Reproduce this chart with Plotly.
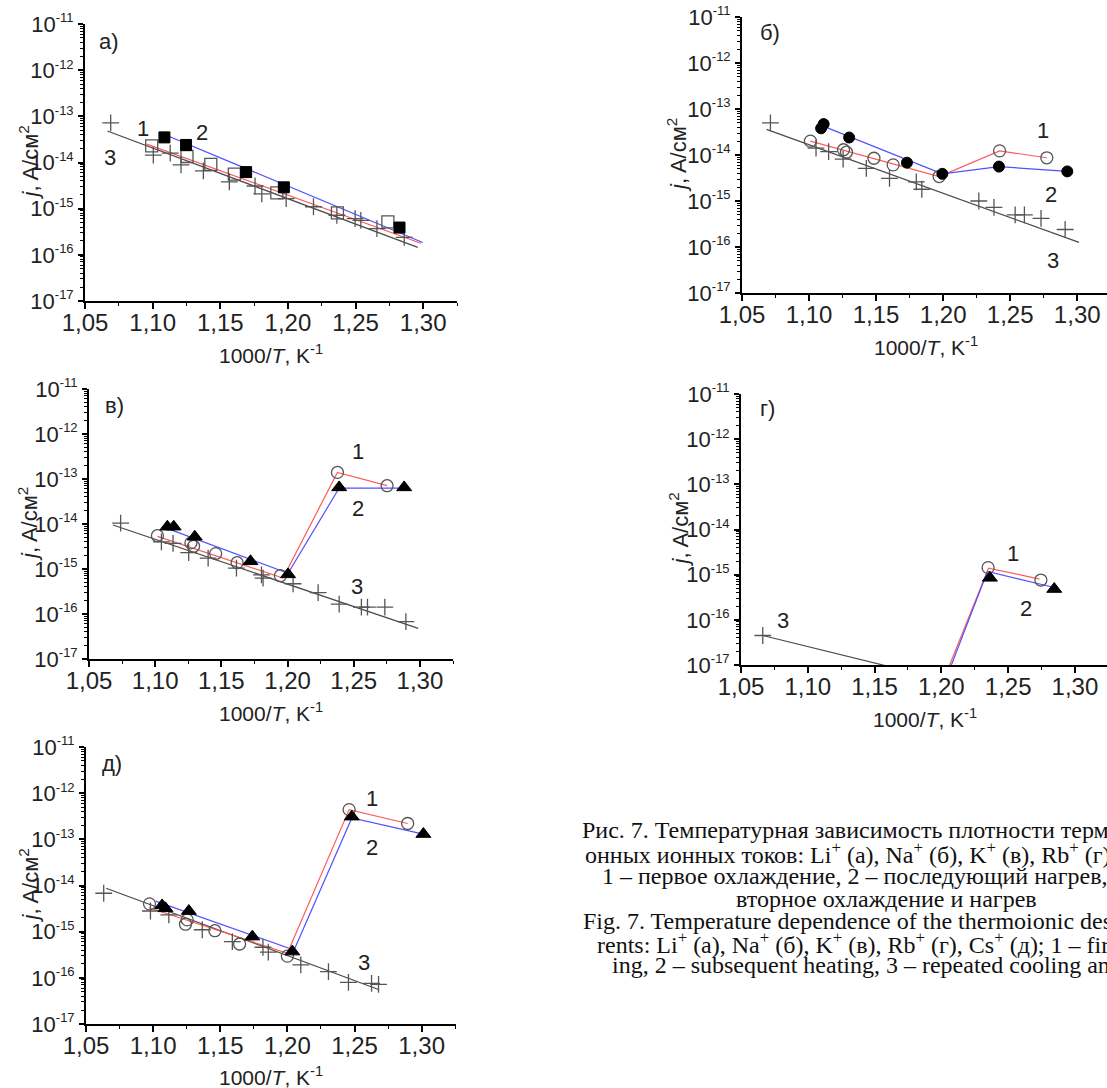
import plotly.graph_objects as go

W, H = 1107, 1088

# ---------------- data ----------------
x_tick_vals = [1.05, 1.10, 1.15, 1.20, 1.25, 1.30]
x_tick_text = ["1,05", "1,10", "1,15", "1,20", "1,25", "1,30"]
y_decades = [-17, -16, -15, -14, -13, -12, -11]

# panel а) Li+
a_x3 = [1.069, 1.1005, 1.113, 1.121, 1.1375, 1.1567, 1.1757, 1.1807, 1.1987, 1.2189, 1.2362, 1.2497, 1.2539, 1.2658, 1.286]
a_y3 = [7.2e-14, 1.44e-14, 1.6e-14, 8.9e-15, 6.6e-15, 3.8e-15, 3.1e-15, 2.1e-15, 1.65e-15, 1.1e-15, 7.2e-16, 6.1e-16, 5.6e-16, 3.7e-16, 2.4e-16]
a_x1 = [1.0993, 1.1254, 1.143, 1.1604, 1.1918, 1.2366, 1.2739]
a_y1 = [2.3e-14, 1.35e-14, 9.1e-15, 5.6e-15, 2.2e-15, 8.1e-16, 5.2e-16]
a_x2 = [1.1087, 1.1247, 1.1691, 1.197, 1.2825]
a_y2 = [3.5e-14, 2.4e-14, 6.2e-15, 2.9e-15, 3.9e-16]
a_fit3_x = [1.0665, 1.296]
a_fit3_y = [4.8e-14, 1.45e-16]
a_fit1_x = [1.0956, 1.2983]
a_fit1_y = [2.5e-14, 1.78e-16]
a_fit2_x = [1.1092, 1.2997]
a_fit2_y = [4.0e-14, 1.85e-16]

# panel б) Na+
b_x3 = [1.0712, 1.1052, 1.1146, 1.1254, 1.1427, 1.16, 1.18, 1.1841, 1.2266, 1.2379, 1.2537, 1.2606, 1.273, 1.291]
b_y3 = [5.0e-14, 1.41e-14, 1.18e-14, 8.1e-15, 5.1e-15, 3.1e-15, 2.6e-15, 1.8e-15, 1.0e-15, 7.3e-16, 5.0e-16, 5.0e-16, 4.2e-16, 2.4e-16]
b_fit3_x = [1.0683, 1.3013]
b_fit3_y = [3.6e-14, 1.26e-16]
b_x1 = [1.101, 1.1257, 1.1279, 1.1484, 1.1627, 1.197, 1.2421, 1.2773]
b_y1 = [2.0e-14, 1.3e-14, 1.15e-14, 8.5e-15, 6.1e-15, 3.4e-15, 1.23e-14, 8.7e-15]
b_line1_x = [1.101, 1.197, 1.2421, 1.2773]
b_line1_y = [2.0e-14, 3.4e-15, 1.23e-14, 8.7e-15]
b_x2 = [1.109, 1.1109, 1.1299, 1.173, 1.1994, 1.2416, 1.2926]
b_y2 = [3.8e-14, 4.7e-14, 2.4e-14, 6.8e-15, 3.9e-15, 5.6e-15, 4.4e-15]
b_line2_x = [1.110, 1.1994, 1.2416, 1.2926]
b_line2_y = [4.3e-14, 3.9e-15, 5.6e-15, 4.4e-15]

# panel в) K+
v_x3 = [1.0739, 1.1047, 1.1135, 1.1253, 1.14, 1.1614, 1.1803, 1.1815, 1.2042, 1.2231, 1.239, 1.2558, 1.2604, 1.2735, 1.2894]
v_y3 = [1.05e-14, 4.0e-15, 3.7e-15, 2.3e-15, 1.75e-15, 1.05e-15, 7.4e-16, 6.3e-16, 4.7e-16, 3.0e-16, 1.66e-16, 1.42e-16, 1.42e-16, 1.42e-16, 6.8e-17]
v_fit3_x = [1.0681, 1.2987]
v_fit3_y = [9.5e-15, 4.8e-17]
v_x1 = [1.1017, 1.127, 1.129, 1.1457, 1.1619, 1.1946, 1.2377, 1.2752]
v_y1 = [5.5e-15, 3.8e-15, 3.2e-15, 2.2e-15, 1.38e-15, 7.1e-16, 1.4e-13, 7.1e-14]
v_line1_x = [1.1017, 1.1966, 1.2377, 1.2752]
v_line1_y = [5.3e-15, 6.3e-16, 1.4e-13, 7.1e-14]
v_x2 = [1.1092, 1.114, 1.1299, 1.172, 1.2004, 1.239, 1.2881]
v_y2 = [8.7e-15, 8.7e-15, 5.2e-15, 1.48e-15, 7.6e-16, 6.5e-14, 6.5e-14]
v_line2_x = [1.109, 1.2004, 1.239, 1.2881]
v_line2_y = [8.0e-15, 8.0e-16, 6.3e-14, 6.3e-14]

# panel г) Rb+
g_x3 = [1.0663]
g_y3 = [4.5e-17]
g_fit3_x = [1.0663, 1.20]
g_fit3_y = [4.5e-17, 4.8e-18]
g_x1 = [1.235, 1.2745]
g_y1 = [1.43e-15, 7.6e-16]
g_line1_x = [1.200, 1.2353, 1.2735]
g_line1_y = [3.5e-18, 1.4e-15, 8.0e-16]
g_x2 = [1.2363, 1.2845]
g_y2 = [8.5e-16, 4.8e-16]
g_line2_x = [1.202, 1.2345, 1.2845]
g_line2_y = [3.8e-18, 1.18e-15, 5.2e-16]

# panel д) Cs+
d_x3 = [1.0632, 1.098, 1.1117, 1.1366, 1.159, 1.1818, 1.1858, 1.21, 1.2306, 1.2455, 1.2627, 1.2679]
d_y3 = [6.8e-15, 2.8e-15, 2.3e-15, 1.1e-15, 6.1e-16, 4.6e-16, 3.6e-16, 1.9e-16, 1.36e-16, 8.0e-17, 7.6e-17, 7.2e-17]
d_fit3_x = [1.065, 1.2679]
d_fit3_y = [8.7e-15, 5.6e-17]
d_x1 = [1.0973, 1.1241, 1.1254, 1.146, 1.1644, 1.2, 1.246, 1.2896]
d_y1 = [4.0e-15, 1.45e-15, 1.8e-15, 1.05e-15, 5.4e-16, 2.95e-16, 4.4e-13, 2.2e-13]
d_line1_x = [1.0969, 1.2, 1.246, 1.2896]
d_line1_y = [3.3e-15, 3.4e-16, 4.4e-13, 2.2e-13]
d_x2 = [1.1067, 1.1092, 1.1266, 1.1739, 1.2037, 1.248, 1.3013]
d_y2 = [3.7e-15, 3.2e-15, 2.8e-15, 7.8e-16, 3.7e-16, 3.1e-13, 1.3e-13]
d_line2_x = [1.1018, 1.205, 1.248, 1.3013]
d_line2_y = [4.6e-15, 4.0e-16, 2.9e-13, 1.3e-13]

caption_lines = [
    "Рис. 7. Температурная зависимость плотности термоэмисси-",
    "онных ионных токов: Li<sup>+</sup> (а), Na<sup>+</sup> (б), K<sup>+</sup> (в), Rb<sup>+</sup> (г), Cs<sup>+</sup> (д);",
    "1 – первое охлаждение, 2 – последующий нагрев, 3 – по-",
    "вторное охлаждение и нагрев",
    "Fig. 7. Temperature dependence of the thermoionic desorption cur-",
    "rents: Li<sup>+</sup> (а), Na<sup>+</sup> (б), K<sup>+</sup> (в), Rb<sup>+</sup> (г), Cs<sup>+</sup> (д); 1 – first cool-",
    "ing, 2 – subsequent heating, 3 – repeated cooling and heating",
]

# ---------------- layout geometry (pixels) ----------------
panels = [
    dict(name="а)", box=(85, 457, 24, 301), xmax=1.325, lab=(97, 42),
         nums=[("1", 143, 128), ("2", 202, 133), ("3", 110, 157)]),
    dict(name="б)", box=(742, 1107, 17, 293), xmax=1.3222, lab=(758, 33),
         nums=[("1", 1043, 130), ("2", 1051, 194), ("3", 1053, 260)]),
    dict(name="в)", box=(89, 453, 389, 659), xmax=1.325, lab=(103, 405),
         nums=[("1", 358, 451), ("2", 358, 508), ("3", 357, 586)]),
    dict(name="г)", box=(741, 1107, 394, 665), xmax=1.324, lab=(758, 408),
         nums=[("1", 1013, 553), ("2", 1026, 608), ("3", 783, 620)]),
    dict(name="д)", box=(86, 456, 747, 1024), xmax=1.3256, lab=(100, 763),
         nums=[("1", 372, 798), ("2", 372, 847), ("3", 364, 962)]),
]

series = [
    dict(m3=(a_x3, a_y3), f3=(a_fit3_x, a_fit3_y), m1=(a_x1, a_y1), l1=(a_fit1_x, a_fit1_y),
         m2=(a_x2, a_y2), l2=(a_fit2_x, a_fit2_y), s1="square-open", s2="square"),
    dict(m3=(b_x3, b_y3), f3=(b_fit3_x, b_fit3_y), m1=(b_x1, b_y1), l1=(b_line1_x, b_line1_y),
         m2=(b_x2, b_y2), l2=(b_line2_x, b_line2_y), s1="circle-open", s2="circle"),
    dict(m3=(v_x3, v_y3), f3=(v_fit3_x, v_fit3_y), m1=(v_x1, v_y1), l1=(v_line1_x, v_line1_y),
         m2=(v_x2, v_y2), l2=(v_line2_x, v_line2_y), s1="circle-open", s2="triangle-up"),
    dict(m3=(g_x3, g_y3), f3=(g_fit3_x, g_fit3_y), m1=(g_x1, g_y1), l1=(g_line1_x, g_line1_y),
         m2=(g_x2, g_y2), l2=(g_line2_x, g_line2_y), s1="circle-open", s2="triangle-up"),
    dict(m3=(d_x3, d_y3), f3=(d_fit3_x, d_fit3_y), m1=(d_x1, d_y1), l1=(d_line1_x, d_line1_y),
         m2=(d_x2, d_y2), l2=(d_line2_x, d_line2_y), s1="circle-open", s2="triangle-up"),
]

RED = "#ff5a5a"
BLUE = "#5050ff"
GRAY = "#4a4a4a"
AX_FONT = "Arial, 'Liberation Sans', sans-serif"
SERIF = "'Times New Roman', 'Liberation Serif', serif"


def fx(p):
    return p / W


def fy(p):
    return 1 - p / H


fig = go.Figure()
layout = dict(width=W, height=H, margin=dict(l=0, r=0, t=0, b=0, autoexpand=False),
              paper_bgcolor="white", plot_bgcolor="white", showlegend=False)
annotations = []

minor_vals = [k * 10.0 ** d for d in y_decades[:-1] for k in range(2, 10)]
x_minor = [1.075, 1.125, 1.175, 1.225, 1.275, 1.325]
y_tick_text = [f"10<sup><span style='font-size:13px'>{d}</span></sup>" for d in y_decades]

for i, (p, s) in enumerate(zip(panels, series), start=1):
    xa = "x" if i == 1 else f"x{i}"
    ya = "y" if i == 1 else f"y{i}"
    l, r, t, b = p["box"]
    layout[f"xaxis{'' if i == 1 else i}"] = dict(
        domain=[fx(l), fx(r)], range=[1.05, p["xmax"]], anchor=ya, automargin=False,
        showline=True, linecolor="black", linewidth=2, mirror=False,
        showgrid=False, zeroline=False,
        tickmode="array", tickvals=x_tick_vals, ticktext=x_tick_text,
        ticks="outside", ticklen=6, tickwidth=1.5, tickcolor="black",
        ticklabelstandoff=-7,
        minor=dict(tickmode="array", tickvals=x_minor, ticks="outside", ticklen=3,
                   tickwidth=1, tickcolor="black", showgrid=False),
        tickfont=dict(family=AX_FONT, size=24, color="#222"))
    layout[f"yaxis{'' if i == 1 else i}"] = dict(
        domain=[fy(b), fy(t)], type="log", range=[-17, -11], anchor=xa, automargin=False,
        showline=True, linecolor="black", linewidth=2, mirror=False,
        showgrid=False, zeroline=False,
        tickmode="array", tickvals=[10.0 ** d for d in y_decades],
        ticktext=y_tick_text,
        ticks="outside", ticklen=5, tickwidth=1.5, tickcolor="black",
        minor=dict(tickmode="array", tickvals=minor_vals, ticks="outside", ticklen=3,
                   tickwidth=1, tickcolor="black", showgrid=False),
        tickfont=dict(family=AX_FONT, size=22, color="#222"))

    fig.add_trace(go.Scatter(x=s["f3"][0], y=s["f3"][1], mode="lines", xaxis=xa, yaxis=ya,
                             line=dict(color=GRAY, width=1.2)))
    fig.add_trace(go.Scatter(x=s["l1"][0], y=s["l1"][1], mode="lines", xaxis=xa, yaxis=ya,
                             line=dict(color=RED, width=1.2)))
    fig.add_trace(go.Scatter(x=s["l2"][0], y=s["l2"][1], mode="lines", xaxis=xa, yaxis=ya,
                             line=dict(color=BLUE, width=1.2)))
    fig.add_trace(go.Scatter(x=s["m3"][0], y=s["m3"][1], mode="markers", xaxis=xa, yaxis=ya,
                             marker=dict(symbol="cross-thin", size=12,
                                         line=dict(color="#555", width=1.3))))
    fig.add_trace(go.Scatter(x=s["m1"][0], y=s["m1"][1], mode="markers", xaxis=xa, yaxis=ya,
                             marker=dict(symbol=s["s1"], size=12, color="#555",
                                         line=dict(color="#555", width=1.3))))
    size2 = 13 if s["s2"] == "triangle-up" else 11
    fig.add_trace(go.Scatter(x=s["m2"][0], y=s["m2"][1], mode="markers", xaxis=xa, yaxis=ya,
                             marker=dict(symbol=s["s2"], size=size2, color="black",
                                         line=dict(color="black", width=1))))

    annotations.append(dict(x=fx(p["lab"][0]), y=fy(p["lab"][1]), xref="paper", yref="paper",
                            text=p["name"], showarrow=False, xanchor="left", yanchor="middle",
                            font=dict(family=AX_FONT, size=22, color="#222")))
    for txt, nx, ny in p["nums"]:
        annotations.append(dict(x=fx(nx), y=fy(ny), xref="paper", yref="paper", text=txt,
                                showarrow=False, xanchor="center", yanchor="middle",
                                font=dict(family=AX_FONT, size=22, color="#222")))
    # axis titles
    full_right = l + (r - l) * (1.325 - 1.05) / (p["xmax"] - 1.05)
    annotations.append(dict(x=fx((l + full_right) / 2), y=fy(min(b + 53, 1076)),
                            xref="paper", yref="paper",
                            text="1000/<i>T</i>, K<sup>-1</sup>", showarrow=False,
                            xanchor="center", yanchor="middle",
                            font=dict(family=AX_FONT, size=21, color="#222")))
    yt_off = [57, 65, 61, 63, 58][i - 1]
    annotations.append(dict(x=fx(l - yt_off), y=fy((t + b) / 2), xref="paper", yref="paper",
                            text="<i>j</i>, A/см<sup>2</sup>", showarrow=False, textangle=-90,
                            xanchor="center", yanchor="middle",
                            font=dict(family=AX_FONT, size=22, color="#222")))

cap_pos = [(580, 830), (583, 853), (600, 876), (734, 899), (581, 921), (595, 943), (610, 965)]
for txt, (cx, cy) in zip(caption_lines, cap_pos):
    annotations.append(dict(x=fx(cx), y=fy(cy), xref="paper", yref="paper", text=txt,
                            showarrow=False, xanchor="left", yanchor="middle",
                            font=dict(family=SERIF, size=24, color="#111")))

layout["annotations"] = annotations
fig.update_layout(**layout)
fig.write_html("out.html")
